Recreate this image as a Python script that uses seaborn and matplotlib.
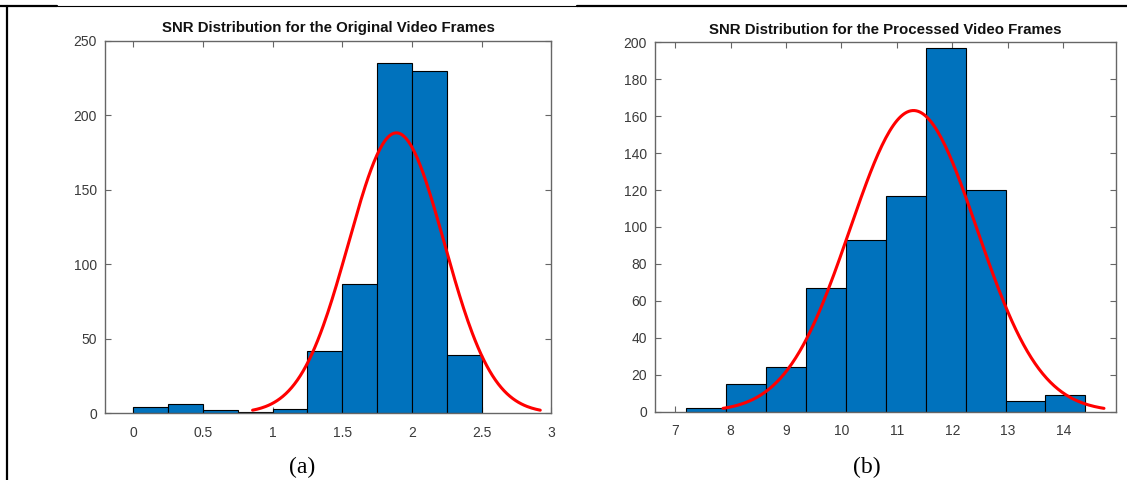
import numpy as np
import pandas as pd
import matplotlib
matplotlib.use("Agg")
import matplotlib.pyplot as plt
from matplotlib.lines import Line2D
import seaborn as sns

# ---------------- data ----------------
orig_edges = [0.0, 0.25, 0.5, 0.75, 1.0, 1.25, 1.5, 1.75, 2.0, 2.25, 2.5]
orig_counts = [4, 6, 2, 1, 3, 42, 87, 235, 230, 39]
orig_mu, orig_sigma = 1.888, 0.344

proc_edges = [7.2, 7.92, 8.64, 9.36, 10.08, 10.8, 11.52, 12.24, 12.96, 13.68, 14.4]
proc_counts = [2, 15, 24, 67, 93, 117, 197, 120, 6, 9]
proc_mu, proc_sigma = 11.30, 1.145

orig_xticks = [0, 0.5, 1, 1.5, 2, 2.5, 3]
orig_xticklabels = ["0", "0.5", "1", "1.5", "2", "2.5", "3"]
orig_yticks = [0, 50, 100, 150, 200, 250]
proc_xticks = [7, 8, 9, 10, 11, 12, 13, 14]
proc_yticks = [0, 20, 40, 60, 80, 100, 120, 140, 160, 180, 200]

titles = ["SNR Distribution for the Original Video Frames",
          "SNR Distribution for the Processed Video Frames"]
captions = ["(a)", "(b)"]

# ---------------- styling ----------------
sns.set_theme(style="white")
plt.rcParams['font.family'] = ['Liberation Sans', 'DejaVu Sans']

BAR = "#0072BD"
AX = "#666666"
TXT = "#3a3a3a"

fig = plt.figure(figsize=(11.27, 4.8), dpi=100)
W, H = 1127, 480

def px_axes(x0, x1, ytop, ybot):
    return fig.add_axes([x0 / W, 1 - ybot / H, (x1 - x0) / W, (ybot - ytop) / H])

ax1 = px_axes(105.4, 551.4, 40.7, 413.3)
ax2 = px_axes(655.1, 1115.9, 42.3, 411.7)


def draw(ax, edges, counts, mu, sigma, xlim, ylim, xticks, xticklabels, yticks, title):
    edges_arr = np.asarray(edges, dtype=float)
    centers = (edges_arr[:-1] + edges_arr[1:]) / 2
    df = pd.DataFrame({"x": centers, "w": counts})
    sns.histplot(data=df, x="x", weights="w", bins=list(edges), ax=ax,
                 color=BAR, alpha=1.0, edgecolor="black", linewidth=0.8,
                 stat="count")
    width = edges_arr[1] - edges_arr[0]
    n = float(np.sum(counts))
    xs = np.linspace(mu - 3 * sigma, mu + 3 * sigma, 200)
    ys = n * width / (sigma * np.sqrt(2 * np.pi)) * np.exp(-0.5 * ((xs - mu) / sigma) ** 2)
    sns.lineplot(x=xs, y=ys, ax=ax, color="#ff0000", linewidth=2.2, zorder=5)
    ax.set_xlim(*xlim)
    ax.set_ylim(*ylim)
    ax.set_xticks(xticks)
    ax.set_xticklabels(xticklabels)
    ax.set_yticks(yticks)
    ax.set_xlabel("")
    ax.set_ylabel("")
    for s in ax.spines.values():
        s.set_visible(True)
        s.set_color(AX)
        s.set_linewidth(1.0)
    ax.tick_params(direction="in", length=4, width=0.8, color=AX,
                   top=True, right=True, bottom=True, left=True,
                   labelsize=10, labelcolor=TXT)
    ax.tick_params(axis="x", pad=9)
    ax.tick_params(axis="y", pad=6)
    ax.set_title(title, fontsize=10.8, fontweight="bold", color="#111111", pad=6)
    ax.grid(False)


draw(ax1, orig_edges, orig_counts, orig_mu, orig_sigma, (-0.2, 3.0), (0, 250),
     orig_xticks, orig_xticklabels, orig_yticks, titles[0])
draw(ax2, proc_edges, proc_counts, proc_mu, proc_sigma, (6.64, 14.95), (0, 200),
     proc_xticks, [str(t) for t in proc_xticks], proc_yticks, titles[1])

# captions
fig.text(302 / W, 1 - 467 / H, captions[0], ha="center", va="center",
         fontsize=17, family=["Liberation Serif", "DejaVu Serif"], color="black")
fig.text(866.7 / W, 1 - 467 / H, captions[1], ha="center", va="center",
         fontsize=17, family=["Liberation Serif", "DejaVu Serif"], color="black")

# table-cell borders
ytop = 1 - 5.7 / H
fig.add_artist(Line2D([0, 57 / W], [ytop, ytop], color="black", linewidth=1.6))
fig.add_artist(Line2D([57 / W, 577 / W], [ytop, ytop], color="black", linewidth=0.8))
fig.add_artist(Line2D([577 / W, 1], [ytop, ytop], color="black", linewidth=1.6))
fig.add_artist(Line2D([6.7 / W, 6.7 / W], [0, ytop], color="black", linewidth=1.6))

fig.savefig("out.png", dpi=100)
